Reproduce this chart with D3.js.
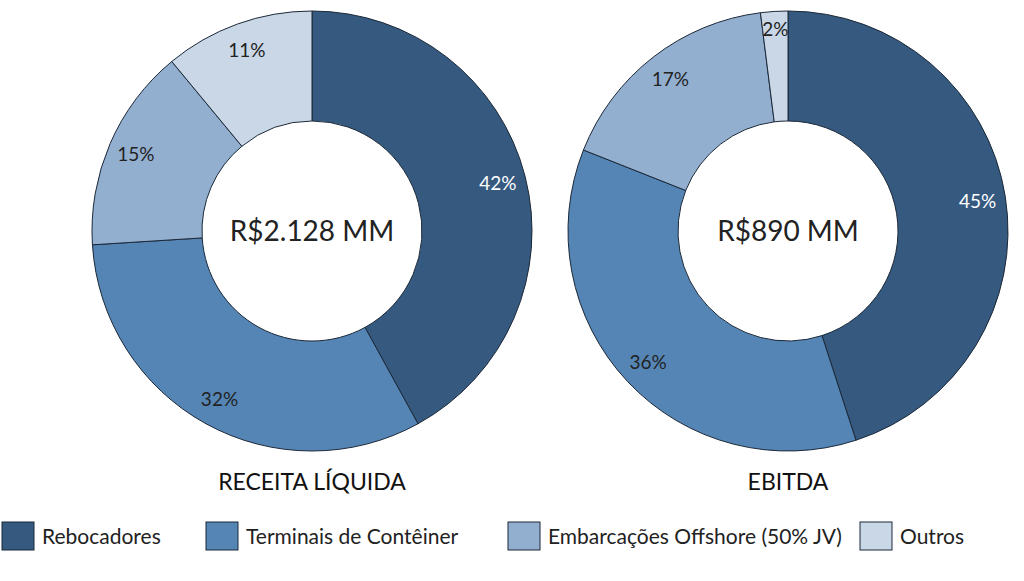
<!DOCTYPE html><html><head><meta charset="utf-8">
<script src="https://cdn.jsdelivr.net/npm/d3@7"></script>
<style>body{margin:0;background:#fff}text{font-family:Lato,"Open Sans",sans-serif}</style></head><body>
<svg id="c" width="1024" height="581"></svg>
<script>
const categories=["Rebocadores","Terminais de Contêiner","Embarcações Offshore (50% JV)","Outros"];
const colors=["#35597f","#5585b5","#93afd0","#c9d7e6"];
const receitaValues=[42,32,15,11];
const ebitdaValues=[45,36,17,2];
const charts=[{vals:receitaValues,cx:312,title:"RECEITA LÍQUIDA",center:"R$2.128 MM"},{vals:ebitdaValues,cx:788,title:"EBITDA",center:"R$890 MM"}];
const svg=d3.select("#c");
const pie=d3.pie().sort(null).value(d=>d);
const arc=d3.arc().innerRadius(110).outerRadius(220);
const lab=d3.arc().innerRadius(192).outerRadius(192);
charts.forEach(c=>{
 const g=svg.append("g").attr("transform",`translate(${c.cx},231)`);
 const arcs=pie(c.vals);
 g.selectAll("path").data(arcs).join("path").attr("d",arc).attr("fill",(d,i)=>colors[i]).attr("stroke","#1b2838").attr("stroke-width",1);
 g.selectAll("text.l").data(arcs).join("text").attr("class","l")
  .attr("transform",d=>{const p=d.data<5?d3.arc().innerRadius(202).outerRadius(202).centroid(d):lab.centroid(d);return `translate(${p})`;})
  .attr("text-anchor","middle").attr("dy","0.35em").attr("font-size",19)
  .attr("fill",(d,i)=>i==0?"#fff":"#222").text(d=>d.data+"%");
 g.append("text").attr("text-anchor","middle").attr("dy","0.35em").attr("font-size",28).attr("fill","#222").text(c.center);
 svg.append("text").attr("x",c.cx).attr("y",490).attr("text-anchor","middle").attr("font-size",23).attr("fill","#111").text(c.title);
});
const lx=[2,206,508,860];
categories.forEach((k,i)=>{
 svg.append("rect").attr("x",lx[i]).attr("y",522).attr("width",32).attr("height",28).attr("fill",colors[i]).attr("stroke","#1b2838");
 svg.append("text").attr("x",lx[i]+40).attr("y",544).attr("font-size",21).attr("fill","#222").text(k);
});
</script></body></html>
